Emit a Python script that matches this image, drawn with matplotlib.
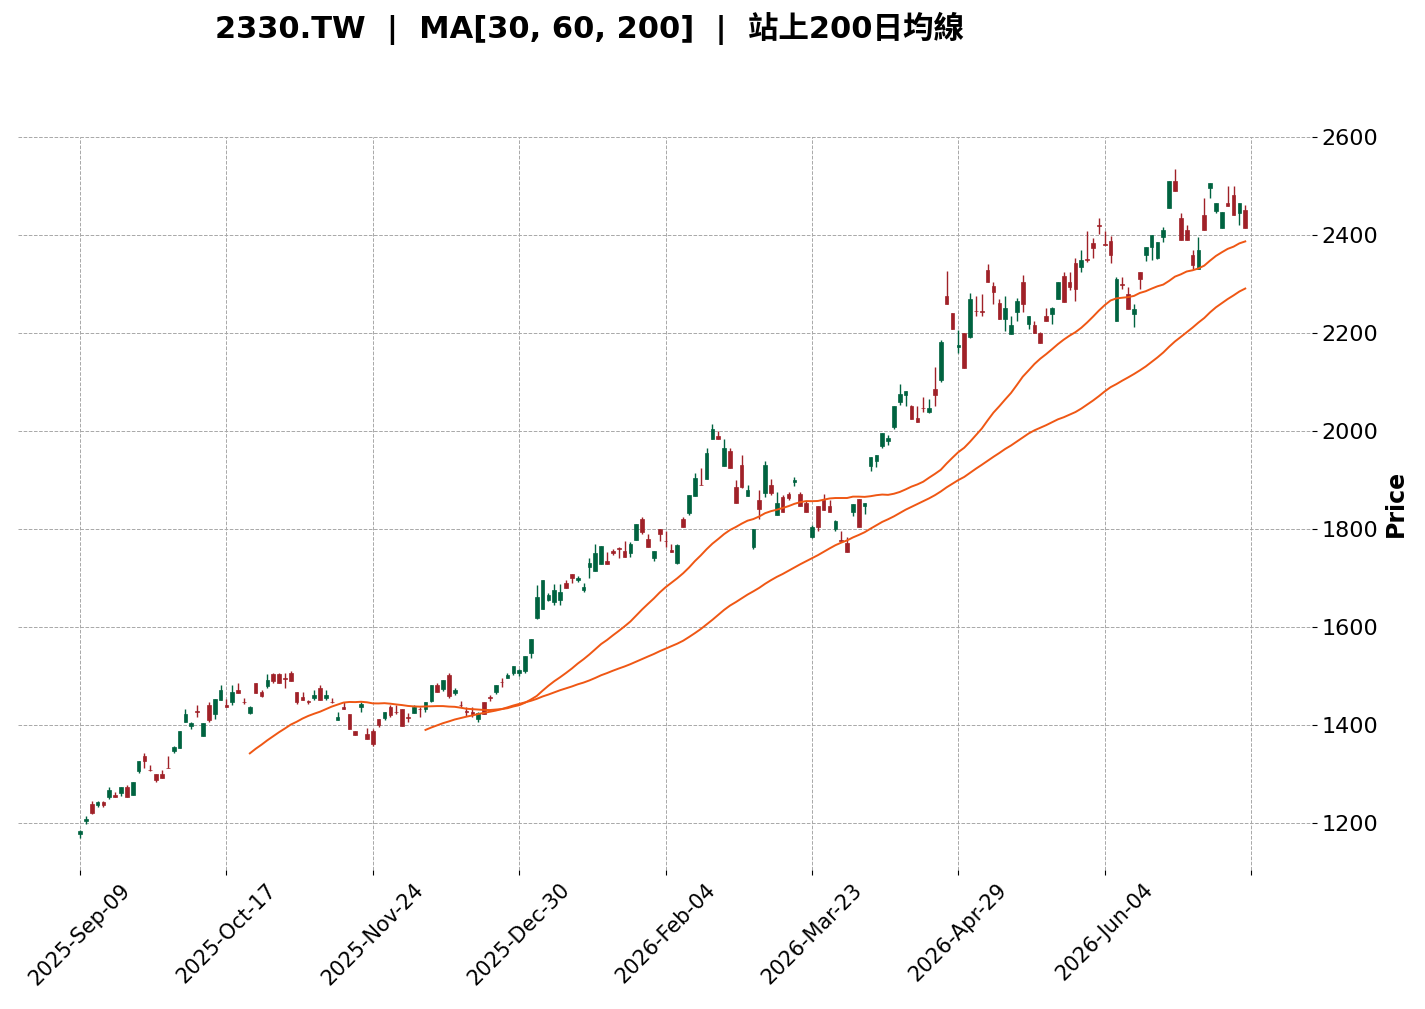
import numpy as np
import pandas as pd
import matplotlib
matplotlib.use('Agg')
import matplotlib.pyplot as plt

# daily OHLC for 2330.TW
opens = [1178, 1203, 1239, 1237, 1243, 1252, 1258, 1262, 1274, 1256,
         1307, 1337, 1309, 1299, 1299, 1313, 1346, 1352, 1405, 1397,
         1428, 1377, 1441, 1422, 1450, 1441, 1446, 1471, 1447, 1425,
         1486, 1468, 1480, 1503, 1503, 1495, 1507, 1468, 1458, 1448,
         1455, 1475, 1455, 1447, 1410, 1437, 1422, 1388, 1436, 1382,
         1388, 1412, 1414, 1437, 1427, 1433, 1416, 1425, 1433, 1432,
         1449, 1482, 1473, 1502, 1466, 1441, 1428, 1426, 1412, 1447,
         1457, 1467, 1488, 1495, 1505, 1505, 1511, 1546, 1618, 1636,
         1654, 1650, 1654, 1689, 1709, 1695, 1675, 1722, 1715, 1729,
         1735, 1755, 1761, 1755, 1750, 1778, 1820, 1780, 1740, 1800,
         1776, 1757, 1731, 1820, 1832, 1867, 1890, 1903, 1983, 1990,
         1929, 1959, 1886, 1931, 1868, 1764, 1859, 1874, 1890, 1829,
         1866, 1871, 1895, 1871, 1854, 1784, 1847, 1859, 1847, 1800,
         1777, 1771, 1835, 1861, 1846, 1929, 1939, 1969, 1980, 2008,
         2060, 2073, 2051, 2026, 2047, 2039, 2086, 2104, 2275, 2240,
         2171, 2199, 2192, 2245, 2245, 2329, 2295, 2261, 2229, 2198,
         2243, 2305, 2219, 2216, 2199, 2235, 2239, 2270, 2316, 2305,
         2343, 2335, 2351, 2384, 2420, 2381, 2388, 2224, 2299, 2280,
         2239, 2325, 2359, 2375, 2354, 2395, 2455, 2511, 2435, 2411,
         2360, 2330, 2441, 2495, 2450, 2414, 2466, 2481, 2445, 2452]
highs = [1186, 1215, 1244, 1244, 1244, 1274, 1263, 1274, 1278, 1284,
         1327, 1343, 1319, 1299, 1309, 1337, 1357, 1388, 1433, 1407,
         1441, 1403, 1447, 1452, 1482, 1453, 1482, 1485, 1456, 1439,
         1486, 1471, 1503, 1507, 1507, 1507, 1511, 1468, 1467, 1451,
         1471, 1482, 1471, 1456, 1427, 1447, 1422, 1388, 1447, 1393,
         1391, 1412, 1427, 1441, 1441, 1433, 1425, 1441, 1437, 1447,
         1482, 1486, 1491, 1507, 1475, 1448, 1436, 1436, 1427, 1447,
         1462, 1482, 1495, 1505, 1520, 1514, 1541, 1576, 1685, 1696,
         1669, 1688, 1688, 1695, 1709, 1703, 1689, 1740, 1769, 1765,
         1754, 1760, 1764, 1775, 1774, 1810, 1824, 1789, 1755, 1800,
         1796, 1769, 1769, 1825, 1869, 1914, 1924, 1965, 2014, 2000,
         1983, 1966, 1900, 1950, 1890, 1800, 1879, 1939, 1903, 1875,
         1869, 1876, 1906, 1876, 1857, 1808, 1847, 1871, 1859, 1818,
         1795, 1784, 1851, 1861, 1854, 1946, 1951, 1995, 1992, 2051,
         2096, 2081, 2054, 2050, 2070, 2065, 2130, 2186, 2326, 2240,
         2206, 2199, 2282, 2275, 2280, 2340, 2305, 2270, 2275, 2235,
         2272, 2318, 2235, 2224, 2202, 2250, 2254, 2305, 2324, 2324,
         2354, 2370, 2408, 2394, 2435, 2408, 2397, 2314, 2314, 2293,
         2259, 2325, 2376, 2401, 2386, 2416, 2511, 2535, 2445, 2421,
         2369, 2395, 2475, 2507, 2466, 2446, 2501, 2501, 2465, 2462]
lows = [1170, 1198, 1218, 1233, 1233, 1248, 1252, 1254, 1252, 1256,
        1302, 1312, 1307, 1283, 1291, 1312, 1342, 1352, 1405, 1392,
        1417, 1377, 1406, 1412, 1450, 1436, 1440, 1466, 1442, 1422,
        1466, 1458, 1475, 1485, 1485, 1475, 1490, 1443, 1450, 1442,
        1451, 1450, 1450, 1445, 1410, 1432, 1391, 1380, 1426, 1371,
        1357, 1396, 1410, 1416, 1422, 1397, 1405, 1424, 1416, 1426,
        1446, 1467, 1470, 1456, 1461, 1436, 1419, 1416, 1407, 1422,
        1448, 1463, 1477, 1495, 1502, 1500, 1505, 1536, 1616, 1636,
        1652, 1645, 1645, 1680, 1689, 1691, 1671, 1699, 1715, 1729,
        1729, 1747, 1740, 1743, 1743, 1778, 1789, 1764, 1735, 1776,
        1764, 1753, 1728, 1805, 1829, 1867, 1889, 1903, 1983, 1983,
        1929, 1924, 1854, 1884, 1868, 1760, 1820, 1866, 1869, 1829,
        1834, 1859, 1887, 1846, 1835, 1781, 1796, 1839, 1835, 1795,
        1774, 1754, 1827, 1805, 1830, 1919, 1926, 1965, 1971, 2005,
        2053, 2050, 2025, 2019, 2039, 2036, 2050, 2099, 2260, 2209,
        2160, 2129, 2190, 2234, 2234, 2304, 2260, 2229, 2205, 2198,
        2224, 2243, 2209, 2199, 2180, 2224, 2219, 2270, 2263, 2287,
        2265, 2324, 2345, 2354, 2403, 2379, 2343, 2224, 2290, 2249,
        2212, 2290, 2346, 2350, 2351, 2386, 2455, 2489, 2390, 2390,
        2331, 2330, 2410, 2475, 2445, 2414, 2460, 2441, 2421, 2414]
closes = [1184, 1209, 1221, 1243, 1237, 1268, 1252, 1274, 1252, 1284,
          1327, 1326, 1308, 1287, 1291, 1312, 1354, 1388, 1423, 1403,
          1427, 1403, 1411, 1452, 1472, 1436, 1467, 1466, 1446, 1436,
          1466, 1460, 1492, 1490, 1485, 1494, 1490, 1446, 1450, 1447,
          1461, 1450, 1461, 1446, 1416, 1432, 1391, 1380, 1443, 1371,
          1361, 1399, 1427, 1420, 1426, 1397, 1415, 1437, 1432, 1447,
          1482, 1467, 1491, 1460, 1471, 1440, 1427, 1422, 1424, 1422,
          1456, 1482, 1487, 1501, 1520, 1512, 1541, 1576, 1661, 1696,
          1665, 1675, 1671, 1680, 1699, 1699, 1682, 1731, 1750, 1765,
          1729, 1750, 1760, 1743, 1769, 1810, 1794, 1764, 1755, 1789,
          1775, 1754, 1767, 1805, 1869, 1905, 1889, 1956, 2004, 1983,
          1966, 1924, 1854, 1886, 1880, 1800, 1840, 1931, 1874, 1854,
          1834, 1864, 1900, 1846, 1835, 1805, 1805, 1839, 1835, 1816,
          1776, 1754, 1851, 1805, 1854, 1946, 1951, 1995, 1986, 2051,
          2075, 2081, 2025, 2019, 2046, 2046, 2073, 2182, 2260, 2209,
          2176, 2129, 2270, 2244, 2243, 2304, 2284, 2229, 2250, 2216,
          2265, 2259, 2235, 2199, 2180, 2224, 2251, 2305, 2263, 2294,
          2290, 2350, 2350, 2373, 2419, 2380, 2359, 2310, 2298, 2249,
          2249, 2310, 2376, 2401, 2386, 2411, 2511, 2489, 2390, 2390,
          2339, 2370, 2410, 2507, 2466, 2446, 2460, 2441, 2465, 2414]

mav = [30, 60, 200]
tick_labels = ['2025-Sep-09', '2025-Oct-17', '2025-Nov-24', '2025-Dec-30',
               '2026-Feb-04', '2026-Mar-23', '2026-Apr-29', '2026-Jun-04', '']
title = '2330.TW  |  MA[30, 60, 200]  |  站上200日均線'

o = np.array(opens, dtype=float)
h = np.array(highs, dtype=float)
l = np.array(lows, dtype=float)
c = np.array(closes, dtype=float)
x = np.arange(len(c))

up_color = '#006340'
down_color = '#A02128'
ma_color = '#ef5714'

fig = plt.figure(figsize=(14.25, 10.09), dpi=100)
ax = fig.add_axes([0.0126, 0.1378, 0.9081, 0.7264])

colors = np.where(c >= o, up_color, down_color)
ax.vlines(x, l, h, colors=colors, linewidth=1.0, zorder=2)
ax.bar(x, np.maximum(np.abs(c - o), 1.0), bottom=np.minimum(o, c), width=0.62,
       color=colors, edgecolor=colors, linewidth=0.5, zorder=3)

for n in mav:
    ma = pd.Series(c).rolling(n).mean()
    ax.plot(x, ma, color=ma_color, linewidth=1.4, zorder=4)

ax.set_xlim(-10.6, 210.4)
ax.set_ylim(1104, 2600)
step = 25
ax.set_xticks(np.arange(0, step * len(tick_labels), step))
ax.set_xticklabels(tick_labels, rotation=45, fontsize=15)
ax.set_yticks(np.arange(1200, 2601, 200))
ax.yaxis.tick_right()
ax.yaxis.set_label_position('right')
ax.tick_params(axis='y', labelsize=16)
ax.set_ylabel('Price', fontsize=17, fontweight='bold')

for s in ax.spines.values():
    s.set_visible(False)
ax.grid(True, linestyle='--', color='#a8a8a8', linewidth=0.7)
ax.set_axisbelow(True)

fig.text(0.414, 0.972, title, ha='center', va='center', fontsize=22,
         fontweight='bold', family=['DejaVu Sans', 'Noto Sans CJK TC'])

fig.savefig('out.png', dpi=100)
